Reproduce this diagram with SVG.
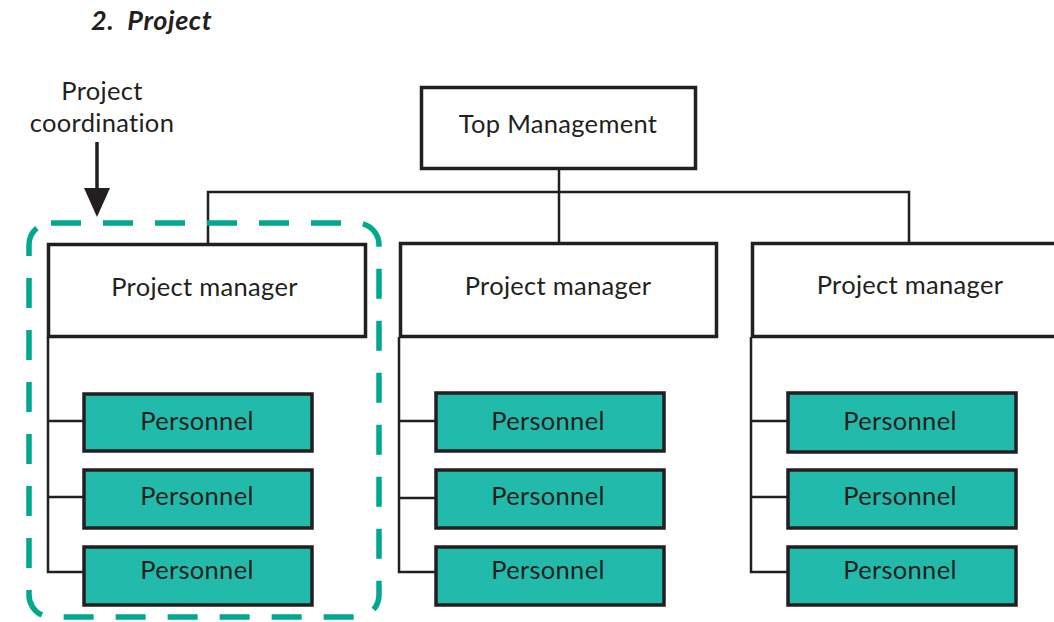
<svg xmlns="http://www.w3.org/2000/svg" width="1054" height="622" viewBox="0 0 1054 622">
  <defs>
    <style>
      .box { fill: #ffffff; stroke: #231f20; stroke-width: 3.5; }
      .staff { fill: #22baaa; stroke: #231f20; stroke-width: 3.5; }
      .link { fill: none; stroke: #231f20; stroke-width: 2.5; }
      .lbl { font-family: Lato, "Liberation Sans", sans-serif; font-size: 25.5px; letter-spacing: 0.3px; fill: #231f20; text-anchor: middle; }
      .title { font-family: Lato, "Liberation Sans", sans-serif; font-size: 27px; font-weight: bold; font-style: italic; fill: #231f20; letter-spacing: 0.6px; }
      .scope { fill: none; stroke: #00a88f; stroke-width: 5.5; stroke-dasharray: 30 22; }
    </style>
  </defs>

  <text class="title" x="91" y="30" xml:space="preserve">2.  Project</text>

  <!-- connectors -->
  <g id="connectors">
    <path class="link" d="M559,169 V242"/>
    <path class="link" d="M208,244 V192 H909 V243"/>
    <path class="link" d="M48,337 V572 H83 M48,421 H83 M48,497 H83"/>
    <path class="link" d="M399,337 V572 H435 M399,421 H435 M399,498 H435"/>
    <path class="link" d="M751,337 V572 H787 M751,421 H787 M751,497 H787"/>
    <path d="M97,142 V190" stroke="#231f20" stroke-width="3.5"/>
    <path d="M84,188 L110,188 L97,217 Z" fill="#231f20"/>
  </g>

  <g id="coordination-label">
    <text class="lbl" x="102" y="100">Project</text>
    <text class="lbl" x="102" y="132">coordination</text>
  </g>

  <g id="top-management">
    <rect class="box" x="421.5" y="87.5" width="274" height="81"/>
    <text class="lbl" x="558" y="133">Top Management</text>
  </g>

  <g id="pm-1">
    <rect class="box" x="48.5" y="244.5" width="317" height="92"/>
    <text class="lbl" x="204.5" y="296">Project manager</text>
  </g>
  <g id="pm-2">
    <rect class="box" x="400.5" y="243.5" width="316" height="93"/>
    <text class="lbl" x="558" y="295">Project manager</text>
  </g>
  <g id="pm-3">
    <rect class="box" x="752.5" y="243.5" width="310" height="93"/>
    <text class="lbl" x="910" y="294">Project manager</text>
  </g>

  <g id="staff-1a"><rect class="staff" x="84" y="394" width="228" height="57"/><text class="lbl" x="197" y="430">Personnel</text></g>
  <g id="staff-1b"><rect class="staff" x="84" y="470" width="228" height="58"/><text class="lbl" x="197" y="505">Personnel</text></g>
  <g id="staff-1c"><rect class="staff" x="84" y="547" width="228" height="58"/><text class="lbl" x="197" y="579">Personnel</text></g>

  <g id="staff-2a"><rect class="staff" x="436" y="393" width="228" height="58"/><text class="lbl" x="548" y="430">Personnel</text></g>
  <g id="staff-2b"><rect class="staff" x="436" y="470" width="228" height="58"/><text class="lbl" x="548" y="505">Personnel</text></g>
  <g id="staff-2c"><rect class="staff" x="436" y="547" width="228" height="58"/><text class="lbl" x="548" y="579">Personnel</text></g>

  <g id="staff-3a"><rect class="staff" x="788" y="393" width="228" height="59"/><text class="lbl" x="900" y="430">Personnel</text></g>
  <g id="staff-3b"><rect class="staff" x="788" y="470" width="228" height="58"/><text class="lbl" x="900" y="505">Personnel</text></g>
  <g id="staff-3c"><rect class="staff" x="788" y="547" width="228" height="58"/><text class="lbl" x="900" y="579">Personnel</text></g>

  <g id="project-scope">
    <rect class="scope" x="29" y="223" width="350" height="394" rx="22" ry="22"/>
  </g>
</svg>
